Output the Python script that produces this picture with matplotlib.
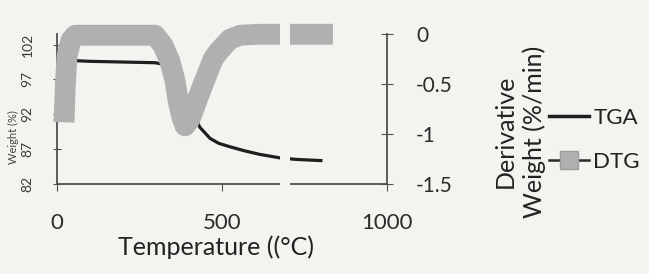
import matplotlib
matplotlib.use("Agg")
import matplotlib.pyplot as plt
from matplotlib.lines import Line2D

# ---- data ----
tga_temp = [21, 40, 55, 100, 200, 297, 320, 340, 360, 380, 400, 420, 433,
            464, 490, 524, 570, 615, 676, 720, 760, 805]
tga_weight = [100.0, 99.8, 99.7, 99.6, 99.5, 99.4, 99.2, 98.6, 97.4, 95.7,
              93.5, 91.3, 90.1, 88.5, 87.8, 87.3, 86.7, 86.2, 85.7, 85.5,
              85.4, 85.3]

dtg_temp = [22, 25, 30, 42, 55, 100, 150, 200, 250, 297, 321, 342, 358, 367,
            379, 388, 402, 415, 427, 448, 473, 488, 524, 555, 615, 676, 720,
            760, 805]
dtg_rate = [-0.78, -0.50, -0.22, -0.06, -0.01, -0.01, -0.01, -0.01, -0.01,
            -0.01, -0.11, -0.27, -0.47, -0.67, -0.84, -0.92, -0.86, -0.75,
            -0.64, -0.46, -0.25, -0.18, -0.05, -0.01, 0.0, 0.0, 0.0, 0.0, 0.0]

x_ticks = [0, 500, 1000]
left_ticks = [82, 87, 92, 97, 102]
right_ticks = [0, -0.5, -1, -1.5]
right_tick_labels = ["0", "-0.5", "-1", "-1.5"]

bg = "#f3f3f0"
axis_col = "#505050"
plt.rcParams["font.family"] = ["Lato", "DejaVu Sans"]

fig = plt.figure(figsize=(6.49, 2.74), dpi=100, facecolor=bg)
ax = fig.add_axes([0.088, 0.33, 0.508, 0.545])
ax.set_facecolor(bg)
ax2 = ax.twinx()

ax.plot(tga_temp, tga_weight, color="#1e1e1e", lw=2.3,
        solid_capstyle="butt", zorder=3)
ax2.plot(dtg_temp, dtg_rate, color="#b0b0b0", lw=15,
         solid_capstyle="projecting", solid_joinstyle="round",
         clip_on=False, zorder=4)

ax.set_xlim(0, 1000)
ax.set_ylim(82, 103.5)
ax2.set_ylim(-1.5, 0)
ax.set_xticks(x_ticks)
ax.set_yticks(left_ticks)
ax2.set_yticks(right_ticks)
ax2.set_yticklabels(right_tick_labels)

for s in ["top", "right"]:
    ax.spines[s].set_visible(False)
for s in ["top", "left", "bottom"]:
    ax2.spines[s].set_visible(False)
for s in ["left", "bottom"]:
    ax.spines[s].set_color(axis_col)
    ax.spines[s].set_linewidth(1.3)
ax2.spines["right"].set_color(axis_col)
ax2.spines["right"].set_linewidth(1.3)

ax.tick_params(axis="x", direction="out", length=5, color=axis_col, pad=16,
               labelsize=16, labelcolor="#2a2a2a")
ax.tick_params(axis="y", direction="inout", length=6, color=axis_col, pad=14,
               labelsize=10, labelcolor="#3a3a3a", labelrotation=90)
for lab in ax.get_yticklabels():
    lab.set_va("center")
ax2.tick_params(axis="y", direction="inout", length=8, color=axis_col, pad=17,
                labelsize=15, labelcolor="#2a2a2a")

# photo crease: a thin blank strip across the plot
ax2.axvspan(676, 706, ymin=-0.03, ymax=1.1, color=bg, lw=0, zorder=10,
            clip_on=False)

fig.text(0.333, 0.097, "Temperature ((°C)", ha="center", va="center",
         fontsize=18, color="#222222")
fig.text(0.021, 0.50, "Weight (%)", ha="center", va="center", rotation=90,
         fontsize=8, color="#444444")
fig.text(0.801, 0.52, "Derivative\nWeight (%/min)", ha="center", va="center",
         rotation=90, fontsize=18, color="#222222", linespacing=1.3,
         multialignment="center")

dtg_handle = Line2D([], [], color="#2a2a2a", lw=1.8, marker="s",
                    markersize=13, markerfacecolor="#b0b0b0",
                    markeredgecolor="#9c9c9c")
tga_handle = Line2D([], [], color="#1e1e1e", lw=2.5)
fig.legend([tga_handle, dtg_handle], ["TGA", "DTG"], loc="center left",
           bbox_to_anchor=(0.815, 0.49), frameon=False, fontsize=16,
           handlelength=1.8, handletextpad=0.2, labelspacing=1.1,
           labelcolor="#222222")

fig.savefig("out.png", dpi=100, facecolor=bg)
